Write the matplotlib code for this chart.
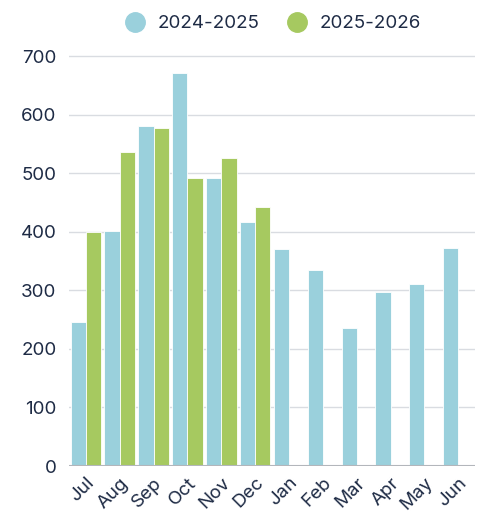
import matplotlib.pyplot as plt
import numpy as np
from matplotlib.lines import Line2D

plt.rcParams['font.family'] = ['Inter', 'DejaVu Sans']

# data
months = ['Jul', 'Aug', 'Sep', 'Oct', 'Nov', 'Dec', 'Jan', 'Feb', 'Mar', 'Apr', 'May', 'Jun']
s2024 = [246, 401, 580, 671, 492, 417, 370, 335, 236, 297, 311, 372]
s2025 = [400, 536, 577, 492, 526, 442]
labels = ['2024-2025', '2025-2026']

COLOR_1 = '#9ad0dc'
COLOR_2 = '#a6c960'
TXT = '#1e2b45'

fig = plt.figure(figsize=(4.82, 5.17), dpi=100)
ax = fig.add_axes([0.143, 0.0986, 0.843, 0.8157])

x = np.arange(len(months))
w = 0.45
ax.bar(x - w / 2, s2024, width=w, color=COLOR_1, edgecolor='white', linewidth=0.6, zorder=3)
ax.bar(x[:len(s2025)] + w / 2, s2025, width=w, color=COLOR_2, edgecolor='white', linewidth=0.6, zorder=3)

ax.set_xlim(-0.5, 11.5)
ax.set_ylim(0, 720)
ax.set_yticks(range(0, 701, 100))
ax.grid(axis='y', color='#d9dce1', linewidth=1, zorder=0)
ax.axhline(0, color='#b3b6bb', linewidth=1.5, zorder=4)
for s in ax.spines.values():
    s.set_visible(False)
ax.tick_params(length=0, labelsize=13.5, colors=TXT, pad=9)
ax.set_xticks(x)
ax.set_xticklabels(months, rotation=45, ha='right', rotation_mode='anchor')
ax.tick_params(axis='x', pad=6)

handles = [Line2D([], [], marker='o', linestyle='', markersize=14, color=c) for c in (COLOR_1, COLOR_2)]
fig.legend(handles, labels, loc='upper center', bbox_to_anchor=(0.557, 1.003), ncol=2, frameon=False,
           fontsize=13.5, labelcolor=TXT, handletextpad=0.2, columnspacing=1.0)

plt.savefig('out.png')
